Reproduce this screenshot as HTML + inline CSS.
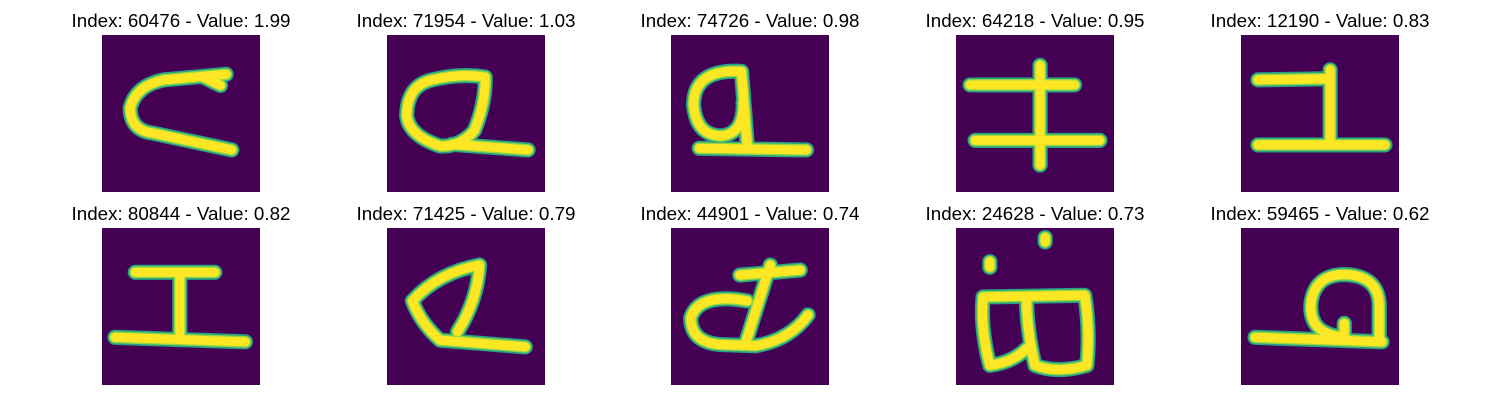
<!DOCTYPE html>
<html>
<head>
<meta charset="utf-8">
<style>
  html,body{margin:0;padding:0;background:#fff;}
  #fig{position:relative;width:1500px;height:400px;overflow:hidden;font-family:"Liberation Sans","DejaVu Sans",sans-serif;}
  .title{position:absolute;width:300px;text-align:center;font-size:18.8px;color:#000;line-height:20px;}
  svg.panel{position:absolute;width:158px;height:157px;}
  .o{fill:none;stroke:#27a085;stroke-width:2.7;stroke-linecap:round;stroke-linejoin:round;}
  .m{fill:none;stroke:#8fd744;stroke-width:2.1;stroke-linecap:round;stroke-linejoin:round;}
  .i{fill:none;stroke:#fde725;stroke-width:1.6;stroke-linecap:round;stroke-linejoin:round;}
</style>
</head>
<body>
<div id="fig"></div>
<script>
const indices = [60476, 71954, 74726, 64218, 12190, 80844, 71425, 44901, 24628, 59465];
const values = ["1.99", "1.03", "0.98", "0.95", "0.83", "0.82", "0.79", "0.74", "0.73", "0.62"];
const glyphs = [
  "M22,7 L11,8 Q6,9 5,13 Q5,17 9,17.5 L23,20.5 M18,7.5 L21,9",
  "M17.4,7.5 Q17.5,12 15.5,17 Q13,20 9.4,19.8 Q4,18 3.5,14.5 Q3.5,9 8,8 Q13,6.8 17.4,7.5 M11.5,19.5 L25,20.5",
  "M12.5,6.5 Q4,6 4,12.5 Q4.5,18 9,18 Q13,17.5 12.8,12 M12.5,6.5 L13.5,19.5 M5,20.2 L24,20.5",
  "M2.5,8.9 L21,8.9 M14.9,5.4 L14.9,23.2 M3.4,18.8 L25.5,18.8",
  "M3,8 L15.8,7.8 M15.8,6.2 L15.8,19.6 M3,19.6 L25.5,19.6",
  "M5.9,7.9 L20,7.9 M13.8,7.9 L13.8,18.6 M2.3,19.5 L25.4,20.3",
  "M16.4,6.6 Q9,8 4.5,13 Q6,17 9.4,20 M16.4,6.6 Q16,13 12.5,18.5 M9.4,20 L24.5,21.2",
  "M12.2,8.4 L22.9,7.5 M17.6,6.6 L13.1,20.9 M13.5,13 Q5,11.5 3.5,16 Q3.5,20.5 9,20.8 L15,21 Q21,20 24.3,15.5",
  "M4.8,12.3 L22.8,12 Q23.8,18 23.2,24.5 Q18,26 14,24.5 Q12.5,18 12.5,12.3 M12.5,21.5 Q10,24 6,24.5 Q4.3,18 4.8,12.3 M15.8,1.7 L15.8,2.5 M6,6 L6,7",
  "M18.4,19.5 Q12,19 12.4,13.5 Q13,8.3 18.4,8.3 Q24.5,8.5 24.5,14 L24.5,19.5 M2.5,19.5 L25,20.3 M18.3,17 L18.3,19.5"
];
const fig = document.getElementById('fig');
const colX = [102, 387, 671, 956, 1241];
const rowY = [35, 228];
for (let k = 0; k < 10; k++) {
  const r = Math.floor(k / 5), c = k % 5;
  const x = colX[c], y = rowY[r];
  const t = document.createElement('div');
  t.className = 'title';
  
  
  t.style.left = (x + 79 - 150) + 'px';
  t.style.top = (y - 24) + 'px';
  t.textContent = 'Index: ' + indices[k] + ' - Value: ' + values[k];
  fig.appendChild(t);
  const ns = 'http://www.w3.org/2000/svg';
  const s = document.createElementNS(ns, 'svg');
  s.setAttribute('class', 'panel');
  
  
  s.setAttribute('viewBox', '0 0 28 28');
  s.setAttribute('preserveAspectRatio', 'none');
  s.style.left = x + 'px';
  s.style.top = y + 'px';
  const bg = document.createElementNS(ns, 'rect');
  
  
  bg.setAttribute('width', '28'); bg.setAttribute('height', '28'); bg.setAttribute('fill', '#440154');
  s.appendChild(bg);
  ['o', 'm', 'i'].forEach(cls => {
    const p = document.createElementNS(ns, 'path');
    
    
    p.setAttribute('class', cls);
    p.setAttribute('d', glyphs[k]);
    s.appendChild(p);
  });
  fig.appendChild(s);
}
</script>
</body>
</html>
